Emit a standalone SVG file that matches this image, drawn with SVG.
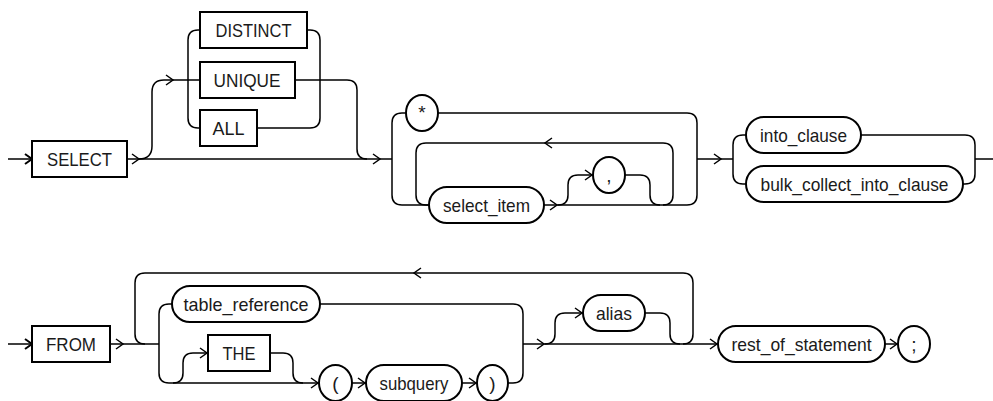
<svg xmlns="http://www.w3.org/2000/svg" xmlns:xlink="http://www.w3.org/1999/xlink" width="993" height="401" viewBox="0 0 993 401">
<style>
.bg{fill:#fff}
.box{fill:#fff;stroke:#000;stroke-width:2}
.ln{fill:none;stroke:#000;stroke-width:1.5}
.ar{fill:none;stroke:#000;stroke-width:1.5}
.ar2{fill:none;stroke:#000;stroke-width:2}
text{font-family:"Liberation Sans",Arial,sans-serif;font-size:19px;fill:#1a1a1a;text-anchor:middle}
</style>
<defs>
<path id="ar" d="M-7,-5 L0,0 L-7,5"/>
<path id="al" d="M7,-5 L0,0 L7,5"/>
</defs>
<rect class="bg" width="993" height="401"/>
<g id="connectors">
<!-- row 1 -->
<path class="ln" d="M8,159 H32"/>
<path class="ln" d="M127,159 H392"/>
<path class="ln" d="M139,159 Q152,159 152,146 V92 Q152,80 164,80 H200"/>
<path class="ln" d="M200,30 H198 Q188,30 188,40 V118 Q188,128 198,128 H200"/>
<path class="ln" d="M307,30 H310 Q320,30 320,40 V118 Q320,128 310,128 H257"/>
<path class="ln" d="M295,80 H347 Q357,80 357,90 V149 Q357,159 367,159"/>
<path class="ln" d="M406,113 H402 Q392,113 392,123 V195 Q392,205 402,205 H429"/>
<path class="ln" d="M429,205 H426 Q416,205 416,195 V153 Q416,143 426,143 H663 Q673,143 673,153 V195 Q673,205 663,205"/>
<path class="ln" d="M438,113 H687 Q697,113 697,123 V195 Q697,205 687,205 H544"/>
<path class="ln" d="M558,205 Q568,205 568,195 V185 Q568,175 578,175 H593"/>
<path class="ln" d="M625,175 H640 Q650,175 650,185 V195 Q650,205 660,205"/>
<path class="ln" d="M697,159 H733"/>
<path class="ln" d="M746,135 H743 Q733,135 733,145 V174 Q733,184 743,184 H746"/>
<path class="ln" d="M861,135 H965 Q975,135 975,145 V174 Q975,184 965,184 H963"/>
<path class="ln" d="M975,159 H993"/>
<use class="ar2" xlink:href="#ar" x="32" y="159"/>
<use class="ar" xlink:href="#ar" x="139" y="159"/>
<use class="ar" xlink:href="#ar" x="173" y="80"/>
<use class="ar" xlink:href="#ar" x="380" y="159"/>
<use class="ar" xlink:href="#al" x="545" y="143"/>
<use class="ar" xlink:href="#ar" x="557" y="205"/>
<use class="ar" xlink:href="#ar" x="592" y="175"/>
<use class="ar" xlink:href="#ar" x="721" y="159"/>
<!-- row 2 -->
<path class="ln" d="M8,344 H32"/>
<path class="ln" d="M110,344 H159"/>
<path class="ln" d="M145,344 Q135,344 135,334 V283 Q135,273 145,273 H683 Q693,273 693,283 V334 Q693,344 683,344"/>
<path class="ln" d="M172,304 H169 Q159,304 159,314 V373 Q159,383 169,383 H319"/>
<path class="ln" d="M173,383 Q183,383 183,373 V363 Q183,353 193,353 H208"/>
<path class="ln" d="M270,353 H283 Q293,353 293,363 V373 Q293,383 303,383"/>
<path class="ln" d="M352,383 H366"/>
<path class="ln" d="M462,383 H477"/>
<path class="ln" d="M508,383 H513 Q523,383 523,373 V314 Q523,304 513,304 H320"/>
<path class="ln" d="M523,344 H718"/>
<path class="ln" d="M545,344 Q555,344 555,334 V323 Q555,313 565,313 H583"/>
<path class="ln" d="M645,313 H660 Q670,313 670,323 V334 Q670,344 680,344"/>
<path class="ln" d="M885,344 H898"/>
<use class="ar2" xlink:href="#ar" x="32" y="344"/>
<use class="ar" xlink:href="#ar" x="123" y="344"/>
<use class="ar" xlink:href="#al" x="414" y="273"/>
<use class="ar" xlink:href="#ar" x="207" y="353"/>
<use class="ar" xlink:href="#ar" x="318" y="383"/>
<use class="ar" xlink:href="#ar" x="365" y="383"/>
<use class="ar" xlink:href="#ar" x="476" y="383"/>
<use class="ar" xlink:href="#ar" x="544" y="344"/>
<use class="ar" xlink:href="#ar" x="582" y="313"/>
<use class="ar" xlink:href="#ar" x="717" y="344"/>
<use class="ar" xlink:href="#ar" x="897" y="344"/>
</g>
<g id="n-select"><rect class="box" x="32" y="141" width="95" height="36"/><text x="79.5" y="165.5" textLength="65" lengthAdjust="spacingAndGlyphs">SELECT</text></g>
<g id="n-distinct"><rect class="box" x="200" y="12" width="107" height="36"/><text x="253.5" y="36.5" textLength="76" lengthAdjust="spacingAndGlyphs">DISTINCT</text></g>
<g id="n-unique"><rect class="box" x="200" y="62" width="95" height="36"/><text x="247" y="86.5" textLength="67" lengthAdjust="spacingAndGlyphs">UNIQUE</text></g>
<g id="n-all"><rect class="box" x="200" y="110" width="57" height="36"/><text x="228.5" y="134.5" textLength="32" lengthAdjust="spacingAndGlyphs">ALL</text></g>
<g id="n-star"><rect class="box" x="406" y="95" width="32" height="36" rx="16" ry="18"/><text x="422" y="119">*</text></g>
<g id="n-select-item"><rect class="box" x="429" y="187" width="115" height="36" rx="18"/><text x="486.5" y="211.5" textLength="87" lengthAdjust="spacingAndGlyphs">select_item</text></g>
<g id="n-comma"><rect class="box" x="593" y="157" width="32" height="36" rx="16" ry="18"/><text x="609" y="181.5">,</text></g>
<g id="n-into-clause"><rect class="box" x="746" y="117" width="115" height="36" rx="18"/><text x="803.5" y="141.5" textLength="87" lengthAdjust="spacingAndGlyphs">into_clause</text></g>
<g id="n-bulk"><rect class="box" x="746" y="166" width="217" height="36" rx="18"/><text x="854.5" y="190.5" textLength="188" lengthAdjust="spacingAndGlyphs">bulk_collect_into_clause</text></g>
<g id="n-from"><rect class="box" x="32" y="326" width="78" height="36"/><text x="71" y="350.5" textLength="50" lengthAdjust="spacingAndGlyphs">FROM</text></g>
<g id="n-table-reference"><rect class="box" x="172" y="286" width="148" height="36" rx="18"/><text x="246" y="310.5" textLength="125" lengthAdjust="spacingAndGlyphs">table_reference</text></g>
<g id="n-the"><rect class="box" x="208" y="335" width="62" height="36"/><text x="239" y="359.5" textLength="33" lengthAdjust="spacingAndGlyphs">THE</text></g>
<g id="n-lparen"><rect class="box" x="319" y="365" width="33" height="36" rx="16.5" ry="18"/><text x="335.5" y="389.5">(</text></g>
<g id="n-subquery"><rect class="box" x="366" y="365" width="96" height="36" rx="18"/><text x="414" y="389.5" textLength="69" lengthAdjust="spacingAndGlyphs">subquery</text></g>
<g id="n-rparen"><rect class="box" x="477" y="365" width="31" height="36" rx="15.5" ry="18"/><text x="492.5" y="389.5">)</text></g>
<g id="n-alias"><rect class="box" x="583" y="295" width="62" height="36" rx="18"/><text x="614" y="319.5" textLength="36" lengthAdjust="spacingAndGlyphs">alias</text></g>
<g id="n-rest"><rect class="box" x="718" y="326" width="167" height="36" rx="18"/><text x="801.5" y="350.5" textLength="140" lengthAdjust="spacingAndGlyphs">rest_of_statement</text></g>
<g id="n-semicolon"><rect class="box" x="898" y="326" width="32" height="36" rx="16" ry="18"/><text x="914" y="350.5">;</text></g>
</svg>
